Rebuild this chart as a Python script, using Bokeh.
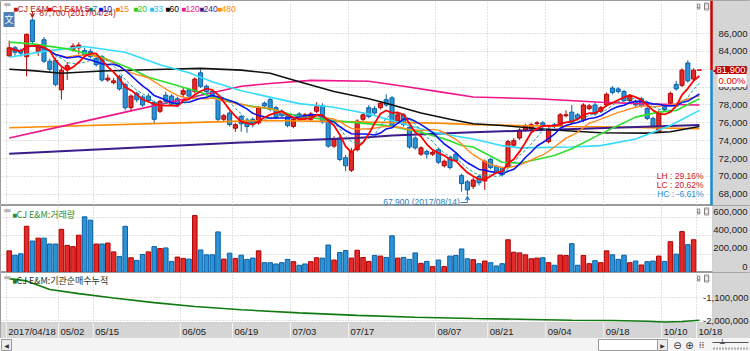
import pandas as pd
from bokeh.plotting import figure
from bokeh.layouts import column
from bokeh.models import Range1d, FixedTicker, Label, Arrow, VeeHead, ColumnDataSource, BoxAnnotation
from bokeh.embed import file_html
from bokeh.resources import INLINE

# ---------------- data ----------------
tick_labels = ["2017/04/18", "05/02", "05/15", "06/05", "06/19", "07/03", "07/17",
               "08/07", "08/21", "09/04", "09/18", "10/10", "10/18"]
tick_index = [0, 9, 15, 30, 39, 49, 59, 74, 83, 93, 103, 113, 119]

opens = [83500, 84400, 84100, 83400, 87500, 84000, 85300, 82900, 83000, 79700,
         82000, 84200, 84400, 84100, 84000, 83200, 83400, 80800, 80500, 81200,
         80300, 77700, 79300, 78900, 79000, 78300, 77300, 79100, 79000, 78700,
         79200, 79700, 79500, 81600, 80100, 79500, 78700, 76400, 77100, 75400,
         76700, 76300, 76400, 76000, 78200, 78600, 77700, 77300, 76700, 75600,
         77000, 76500, 76400, 77300, 77900, 76400, 73400, 74300, 72100, 70700,
         73000, 76400, 77700, 77600, 77700, 78600, 78800, 76200, 76900, 75500,
         74300, 72500, 72800, 72500, 73000, 71200, 72100, 72500, 70100, 69400,
         68900, 70000, 69500, 71900, 71100, 70900, 71100, 73500, 74300, 75200,
         75300, 75900, 76000, 73900, 75800, 75700, 76800, 77200, 76900, 76300,
         77600, 78000, 77300, 78000, 79900, 79800, 79500, 78500, 78400, 78700,
         77600, 76500, 75000, 77800, 78200, 80300, 80200, 82700, 80900, 81900]
highs = [85200, 84600, 84300, 86000, 87700, 84700, 85600, 83200, 83300, 82200,
         82800, 84900, 85000, 84400, 84300, 83500, 83600, 81400, 81000, 81400,
         80500, 79200, 79500, 79100, 79300, 78500, 78600, 79500, 79200, 78900,
         80000, 79900, 81100, 82000, 80300, 79700, 78900, 77000, 77300, 76000,
         76900, 76500, 76600, 77900, 78400, 78900, 77900, 77500, 76900, 76600,
         77200, 77100, 77200, 78300, 78200, 76600, 74500, 74600, 72400, 73200,
         76400, 77200, 78000, 77900, 78400, 79200, 79000, 77100, 77100, 75700,
         74500, 73400, 73000, 72900, 73200, 71900, 72300, 72700, 70300, 69600,
         69900, 70200, 71900, 72100, 71300, 71100, 74100, 74300, 75400, 75900,
         76000, 76200, 76200, 75500, 76000, 77100, 77400, 78000, 77100, 78200,
         78100, 78300, 77900, 79400, 80100, 80000, 79700, 79200, 78600, 78900,
         77800, 76700, 77400, 78100, 79500, 80700, 82100, 83000, 82100, 81900]
lows = [83400, 83500, 83400, 81200, 84800, 83500, 82700, 81600, 80100, 78600,
        80800, 84000, 83700, 83300, 83200, 82300, 80600, 80600, 80300, 79600,
        77400, 77300, 78300, 77800, 78300, 76000, 77100, 78200, 77900, 77900,
        78900, 78800, 79300, 79900, 79300, 78700, 76200, 76200, 75600, 75000,
        75000, 74900, 75500, 75800, 77600, 77300, 76400, 76600, 75500, 75400,
        76300, 76300, 76200, 77100, 75900, 73200, 73200, 71700, 70600, 70500,
        72800, 76200, 76500, 76900, 77500, 77800, 75400, 76000, 75600, 73100,
        73000, 72300, 72000, 72300, 71400, 71000, 70800, 71600, 68300, 67900,
        68600, 69000, 68500, 70800, 70400, 70000, 70900, 73300, 74100, 75000,
        75100, 75700, 75400, 73700, 75400, 75500, 76600, 75900, 76300, 76100,
        77400, 76800, 77100, 77800, 79200, 79300, 78300, 78300, 77800, 77700,
        76300, 75400, 74900, 77300, 78000, 79600, 80000, 80500, 80700, 81900]
closes = [84400, 83900, 83800, 85900, 85100, 84500, 82900, 82000, 80300, 81900,
          82400, 84600, 84700, 83600, 83400, 82500, 80800, 81000, 80700, 79800,
          77700, 79000, 78600, 78000, 78500, 76400, 78400, 78400, 78100, 78100,
          79600, 79000, 80900, 80100, 79500, 78900, 76400, 76800, 75800, 75800,
          75900, 75600, 75900, 77700, 77900, 77500, 76600, 76800, 75700, 76400,
          76500, 76900, 77000, 77800, 76100, 73400, 74200, 71900, 71200, 72800,
          76200, 76900, 76700, 77100, 78200, 78000, 75600, 76900, 75800, 73300,
          73200, 73200, 72500, 72700, 71600, 71700, 71000, 71800, 69200, 68500,
          69600, 69300, 71700, 71000, 70600, 70200, 73900, 74000, 75200, 75700,
          75800, 76000, 75600, 75300, 75600, 76900, 76900, 76100, 76500, 78000,
          77900, 77000, 77700, 79200, 79400, 79500, 78500, 79000, 78000, 77900,
          76500, 75600, 77200, 77500, 79300, 79800, 81900, 80700, 81900, 81900]
volumes = [236000, 189000, 204000, 504000, 343000, 375000, 375000, 311000, 311000, 471000,
           296000, 282000, 407000, 607000, 571000, 311000, 311000, 321000, 225000, 175000,
           504000, 161000, 132000, 196000, 225000, 282000, 261000, 268000, 121000, 168000,
           154000, 146000, 621000, 246000, 193000, 193000, 443000, 146000, 211000, 154000,
           189000, 143000, 157000, 236000, 107000, 107000, 93000, 107000, 143000, 118000,
           79000, 93000, 118000, 161000, 157000, 300000, 136000, 218000, 239000, 157000,
           243000, 164000, 121000, 186000, 179000, 164000, 400000, 157000, 164000, 143000,
           214000, 100000, 121000, 64000, 136000, 64000, 179000, 186000, 257000, 150000,
           140000, 96000, 125000, 107000, 71000, 96000, 357000, 221000, 214000, 193000,
           150000, 157000, 161000, 107000, 79000, 189000, 186000, 314000, 79000, 186000,
           96000, 129000, 107000, 236000, 193000, 143000, 189000, 107000, 125000, 82000,
           118000, 125000, 179000, 121000, 336000, 200000, 446000, 304000, 357000, 0]
vol_up = [1, 0, 0, 1, 0, 1, 0, 0, 0, 1,
          1, 1, 1, 0, 0, 1, 0, 1, 1, 0,
          0, 1, 0, 0, 1, 0, 1, 0, 0, 1,
          1, 0, 1, 0, 0, 0, 0, 1, 0, 1,
          0, 0, 0, 1, 0, 0, 0, 0, 0, 1,
          0, 0, 1, 1, 0, 0, 1, 0, 0, 1,
          1, 1, 1, 0, 1, 0, 0, 1, 0, 0,
          0, 1, 0, 1, 0, 1, 0, 0, 0, 0,
          1, 0, 1, 0, 0, 0, 1, 1, 1, 1,
          1, 1, 0, 1, 0, 1, 1, 0, 0, 1,
          1, 0, 1, 1, 0, 0, 0, 1, 0, 1,
          0, 0, 1, 0, 1, 0, 1, 0, 1, 1]

# longer moving averages, read as vertices from the picture
ma20_i = [0, 4, 10, 16, 21, 24, 27, 31, 33, 35, 39, 40, 45, 50, 56, 62, 65, 71, 75, 78, 80, 85, 88, 94, 97, 102, 105, 108, 112, 115, 119]
ma20_v = [85030, 84840, 84280, 83350, 82050, 81110, 80550, 79800, 79430, 78870, 78300, 78050, 77570, 76710, 76260, 75890, 75700, 74960, 74210, 73460, 73300, 71600, 71490, 72350, 73100, 74770, 75700, 76640, 77200, 77380, 78690]
ma33_i = [0, 6, 13, 20, 26, 31, 35, 40, 50, 56, 62, 68, 73, 80, 85, 88, 97, 102, 108, 114, 119]
ma33_v = [83350, 84000, 84550, 83900, 82500, 81600, 80600, 79600, 78150, 77750, 77000, 75900, 74950, 74200, 73450, 73200, 73300, 73450, 74200, 75700, 77400]
ma60_i = [0, 4, 9, 16, 27, 33, 40, 45, 50, 56, 62, 65, 71, 76, 80, 85, 94, 102, 110, 114, 119]
ma60_v = [82000, 81850, 81550, 81800, 82000, 82100, 81900, 81550, 80600, 79500, 78700, 78200, 77100, 76400, 75900, 75700, 75200, 74900, 74850, 75000, 75600]
ma120_i = [0, 10, 20, 30, 40, 45, 52, 62, 68, 74, 80, 91, 102, 111, 119]
ma120_v = [74300, 75750, 77200, 78650, 80100, 80400, 80750, 80650, 80100, 79500, 78900, 78700, 78300, 78100, 78000]
ma240_i = [0, 40, 60, 66, 80, 92, 119]
ma240_v = [72550, 73800, 74300, 74600, 74950, 75200, 75750]
ma480_i = [0, 40, 45, 62, 74, 80, 97, 108, 119]
ma480_v = [75450, 76200, 76260, 76080, 75970, 75800, 75600, 75500, 75350]

# institutional cumulative net buying, vertices
inst_i = [0, 3, 7, 12, 18, 25, 32, 40, 50, 60, 70, 80, 90, 97, 104, 110, 113, 116, 119]
inst_v = [-360000, -450000, -790000, -950000, -1120000, -1300000, -1450000, -1580000, -1700000,
          -1800000, -1870000, -1920000, -1960000, -1990000, -2000000, -2030000, -2060000, -2040000, -1990000]

price_ticks = [68000, 70000, 72000, 74000, 76000, 78000, 80000, 82000, 84000, 86000]
vol_ticks = [0, 200000, 400000, 600000]
inst_ticks = [-1100000, -2000000]
max_date = "2017/04/24"
min_date = "2017/08/14"

# ---------------- layout constants ----------------
N = len(closes)
xs = [i + 0.5 for i in range(N)]
BAR_PX = 5.8
PAGE_W = 750
X0 = 0.5 - 8.7 / BAR_PX           # page x = 0
XE = X0 + PAGE_W / BAR_PX          # page x = 750
X1 = X0 + 712 / BAR_PX             # right edge of the chart area

P_TOP, PPX1 = 89693.0, 111.9
P_BOT = P_TOP - 205 * PPX1
PPX2 = 600000 / 55.0
V_TOP = 67 * PPX2
PPX3 = 39130.0
I_TOP = -1100000 + 25 * PPX3
I_PAN = I_TOP - 50 * PPX3          # bottom of the indicator pane
I_BOT = I_TOP - 66 * PPX3          # bottom of the date strip

UP, UP_LINE = "#e22a2a", "#b00000"
DN, DN_LINE = "#2b93d6", "#0a5fa5"
GRID = "#c4c4c4"
AXIS_BG = "#d5d5d5"
EDGE = "#9a9a9a"
NUM_FONT = "Liberation Sans"
KR_FONT = "Noto Sans CJK KR"

xr = Range1d(X0, XE)


def xp(px):
    return X0 + px / BAR_PX


def y1(py):
    return P_TOP - py * PPX1


def y2(py):
    return V_TOP - (py - 205) * PPX2


def y3(py):
    return I_TOP - (py - 272) * PPX3


def make_fig(h, yr):
    p = figure(frame_width=PAGE_W, frame_height=h, x_range=xr, y_range=yr, title=None,
               x_axis_location=None, y_axis_location=None, output_backend="svg",
               toolbar_location=None, min_border_left=0, min_border_right=0,
               min_border_top=0, min_border_bottom=0,
               border_fill_color=AXIS_BG, background_fill_color="white",
               outline_line_color=EDGE)
    p.xgrid.ticker = FixedTicker(ticks=tick_index)
    for g in (p.xgrid, p.ygrid):
        g.grid_line_color = GRID
        g.grid_line_dash = "1 2"
        g.grid_line_width = 1
    p.add_layout(BoxAnnotation(left=X1, fill_color=AXIS_BG, fill_alpha=1,
                               line_color=EDGE, line_width=1, level="underlay"))
    return p


def lab(p, x, y, text, color="#222222", size="9.5px", font=NUM_FONT, align="left",
        baseline="middle", x_offset=0, bg=None, border=None, padding=None):
    kw = dict(x=x, y=y, text=text, text_color=color, text_font_size=size, text_font=font,
              text_align=align, text_baseline=baseline, x_offset=x_offset)
    if bg:
        kw["background_fill_color"] = bg
    if border:
        kw["border_line_color"] = border
    if padding is not None:
        kw["padding"] = padding
    p.add_layout(Label(**kw))


def panel_buttons(p, yfun, py):
    lab(p, xp(697), yfun(py), "-", color="#555555", size="7px", bg="#f0f0f0", border="#8c8c8c", padding=0)
    lab(p, xp(704), yfun(py), "□", color="#555555", size="7px", bg="#f0f0f0", border="#8c8c8c", padding=0)


# ---------------- price panel ----------------
p1 = make_fig(205, Range1d(P_BOT, P_TOP))
p1.ygrid.ticker = FixedTicker(ticks=price_ticks)

up = [c >= o for o, c in zip(opens, closes)]
src = ColumnDataSource(dict(
    x=xs, h=highs, l=lows,
    top=[max(o, c) for o, c in zip(opens, closes)],
    bot=[min(o, c) for o, c in zip(opens, closes)],
    fill=[UP if u else DN for u in up],
    line=[UP_LINE if u else DN_LINE for u in up],
))
p1.segment(x0="x", y0="h", x1="x", y1="l", line_color="line", line_width=1, source=src)
p1.vbar(x="x", width=0.7, top="top", bottom="bot", fill_color="fill", line_color="line",
        line_width=1, source=src)
flat = [i for i in range(N) if opens[i] == closes[i]]
p1.segment(x0=[xs[i] - 0.38 for i in flat], y0=[closes[i] for i in flat],
           x1=[xs[i] + 0.38 for i in flat], y1=[closes[i] for i in flat],
           line_color=UP, line_width=1.5)

cs = pd.Series(closes, dtype=float)
ma5 = cs.rolling(5, min_periods=1).mean().tolist()
ma7 = cs.rolling(7, min_periods=1).mean().tolist()
ma10 = cs.rolling(10, min_periods=1).mean().tolist()
ma15 = cs.rolling(15, min_periods=1).mean().tolist()


def vx(idx):
    return [i + 0.5 for i in idx]


p1.line(vx(ma480_i), ma480_v, line_color="#ff8c00", line_width=1.6)
p1.line(vx(ma240_i), ma240_v, line_color="#3a1c8c", line_width=2)
p1.line(vx(ma120_i), ma120_v, line_color="#f0168a", line_width=1.6)
p1.line(vx(ma60_i), ma60_v, line_color="#111111", line_width=1.6)
p1.line(vx(ma33_i), ma33_v, line_color="#33dcff", line_width=1.6)
p1.line(vx(ma20_i), ma20_v, line_color="#2ee02e", line_width=1.6)
p1.line(xs, ma15, line_color="#ff8a22", line_width=1.4)
p1.line(xs, ma10, line_color="#0a14f0", line_width=1.6)
p1.line(xs, ma7, line_color="#1a9a9a", line_width=1, line_dash="3 2")
p1.line(xs, ma5, line_color="#ff0000", line_width=1.8)

# current price marker line on the right edge of the chart area
last = closes[-1]
xv = X1 - 1.0 / BAR_PX
p1.segment(x0=[xv, xv], y0=[last, last], x1=[xv, xv], y1=[P_TOP, P_BOT],
           line_color=["#cc0000", "#1a8ad0"], line_width=2.5)

# right axis labels
for v in price_ticks:
    lab(p1, xp(747), v, f"{v:,}", align="right")
lab(p1, X1, last, "◀", color="#cc0000", size="8px", font="DejaVu Sans")
lab(p1, xp(746), last, f"{last:,}", color="white", align="right", bg="#c00000", padding=1)
chg = (closes[-1] - closes[-2]) / closes[-2] * 100
lab(p1, xp(746), y1(80), f"{chg:.2f}%", color="#e00000", align="right", bg="white", padding=1)

# legend line
lab(p1, xp(3), y1(3.5), "▬", color="#b5b5b5", size="8px", font="DejaVu Sans")
legend_items = [("CJ E&M", "#b01818", 14), ("CJ E&M:5", "#e00000", 48), ("7", "#0a8a8a", 89),
                ("10", "#0018e0", 99), ("15", "#ff7f00", 116), ("20", "#22cc22", 134),
                ("33", "#20c8f0", 150), ("60", "#000000", 166), ("120", "#f0168a", 182),
                ("240", "#3a1c8c", 200), ("480", "#ff8c00", 218)]
for txt, col, px in legend_items:
    lab(p1, xp(px - 1), y1(8), "■", color=col, size="5px", font="DejaVu Sans")
    lab(p1, xp(px + 3), y1(8), txt, color=col, size="8.5px")
lab(p1, xp(3), y1(19), "文", color="white", size="9px", font=KR_FONT, bg="#4f7fb5", padding=1)
panel_buttons(p1, y1, 6)

# max / min annotations
hi = max(highs)
i_hi = highs.index(hi)
lo = min(lows)
i_lo = lows.index(lo)
lab(p1, xs[i_hi] + 1.2, y1(12), f"{hi:,} ({max_date})", color="#b01818", size="8.5px")
p1.add_layout(Arrow(x_start=xs[i_hi], y_start=y1(11), x_end=xs[i_hi], y_end=hi + 0.8 * PPX1,
                    line_color="#b01818", line_width=1,
                    end=VeeHead(size=4, line_color="#b01818", fill_color="#b01818")))
lab(p1, xs[i_lo] - 1.3, y1(201), f"{lo:,} ({min_date})", color="#2a7fc0", size="8.5px", align="right")
p1.line([xs[i_lo] - 1.2, xs[i_lo]], [y1(202), y1(202)], line_color="#2a7fc0", line_width=1)
p1.add_layout(Arrow(x_start=xs[i_lo], y_start=y1(202), x_end=xs[i_lo], y_end=lo - 0.8 * PPX1,
                    line_color="#2a7fc0", line_width=1,
                    end=VeeHead(size=4, line_color="#2a7fc0", fill_color="#2a7fc0")))
lh = (hi - lo) / lo * 100
lc = (last - lo) / lo * 100
hc = (last - hi) / hi * 100
lab(p1, xp(703), y1(175), f"LH : {lh:.2f}%", color="#d02020", size="8.5px", align="right")
lab(p1, xp(703), y1(184), f"LC : {lc:.2f}%", color="#d02020", size="8.5px", align="right")
lab(p1, xp(703), y1(193), f"HC : {hc:.2f}%", color="#2a8fd0", size="8.5px", align="right")

# ---------------- volume panel ----------------
p2 = make_fig(67, Range1d(0, V_TOP))
p2.ygrid.ticker = FixedTicker(ticks=vol_ticks)
p2.vbar(x=xs, width=0.78, top=volumes, bottom=0,
        fill_color=[UP if u else DN for u in vol_up],
        line_color=[UP_LINE if u else DN_LINE for u in vol_up], line_width=1)
for v in vol_ticks:
    lab(p2, xp(747), v + 3 * PPX2, f"{v:,}", align="right", baseline="bottom")
lab(p2, xp(3), y2(210), "▬", color="#b5b5b5", size="8px", font="DejaVu Sans")
lab(p2, xp(12), y2(214), "■", color="#2e8b2e", size="5px", font="DejaVu Sans")
lab(p2, xp(16), y2(214), "CJ E&M:거래량", color="#2e8b2e", size="9px", font=KR_FONT)
panel_buttons(p2, y2, 211)

# ---------------- institutional cumulative panel + date strip ----------------
p3 = make_fig(66, Range1d(I_BOT, I_TOP))
p3.ygrid.ticker = FixedTicker(ticks=inst_ticks)
p3.add_layout(BoxAnnotation(top=I_PAN, fill_color=AXIS_BG, fill_alpha=1,
                            line_color=EDGE, line_width=1, level="underlay"))
p3.segment(x0=tick_index, y0=[I_PAN] * len(tick_index), x1=tick_index, y1=[I_BOT] * len(tick_index),
           line_color="#f3f3f3", line_width=1)
p3.line(vx(inst_i), inst_v, line_color="#0f7a0f", line_width=1.6)
for v in inst_ticks:
    lab(p3, xp(748), v, f"{v:,}", align="right")
lab(p3, xp(3), y3(277), "▬", color="#b5b5b5", size="8px", font="DejaVu Sans")
lab(p3, xp(12), y3(280), "■", color="#1f7a1f", size="5px", font="DejaVu Sans")
lab(p3, xp(16), y3(280), "CJ E&M:기관순매수누적", color="#233323", size="9px", font=KR_FONT)
panel_buttons(p3, y3, 278)
for t, s in zip(tick_index, tick_labels):
    lab(p3, t, y3(331), s, align="left", x_offset=2)

# ---------------- bottom tool strip ----------------
p4 = figure(frame_width=PAGE_W, frame_height=13, x_range=Range1d(0, PAGE_W), y_range=Range1d(13, 0),
            title=None, x_axis_location=None, y_axis_location=None, output_backend="svg",
            toolbar_location=None, min_border_left=0, min_border_right=0, min_border_top=0,
            min_border_bottom=0, background_fill_color="#f4f4f4", border_fill_color="#f4f4f4",
            outline_line_color=None)
p4.xgrid.visible = False
p4.ygrid.visible = False
p4.quad(left=[1, 598, 657], right=[11, 657, 667], top=[1, 1, 1], bottom=[12, 12, 12],
        fill_color=["#ececec", "#ffffff", "#ececec"], line_color="#9a9a9a")
for x, t, s in [(6, "◀", "6px"), (662, "▶", "6px"), (677, "⊖", "10px"), (689, "⊕", "10px"),
                (701, "⁞⁞", "9px")]:
    lab(p4, x, 6.5, t, color="#333333", size=s, align="center", font="DejaVu Sans")
p4.line([712, 748], [4, 4], line_color="#555555", line_width=1)
p4.line([713, 748], [10, 10], line_color="#666666", line_width=2, line_dash="1 2")
lab(p4, 722, 5, "┴", color="#333333", size="8px", align="center", font="DejaVu Sans")

layout = column(p1, p2, p3, p4, spacing=0)
open("out.html", "w").write(file_html(layout, INLINE))
